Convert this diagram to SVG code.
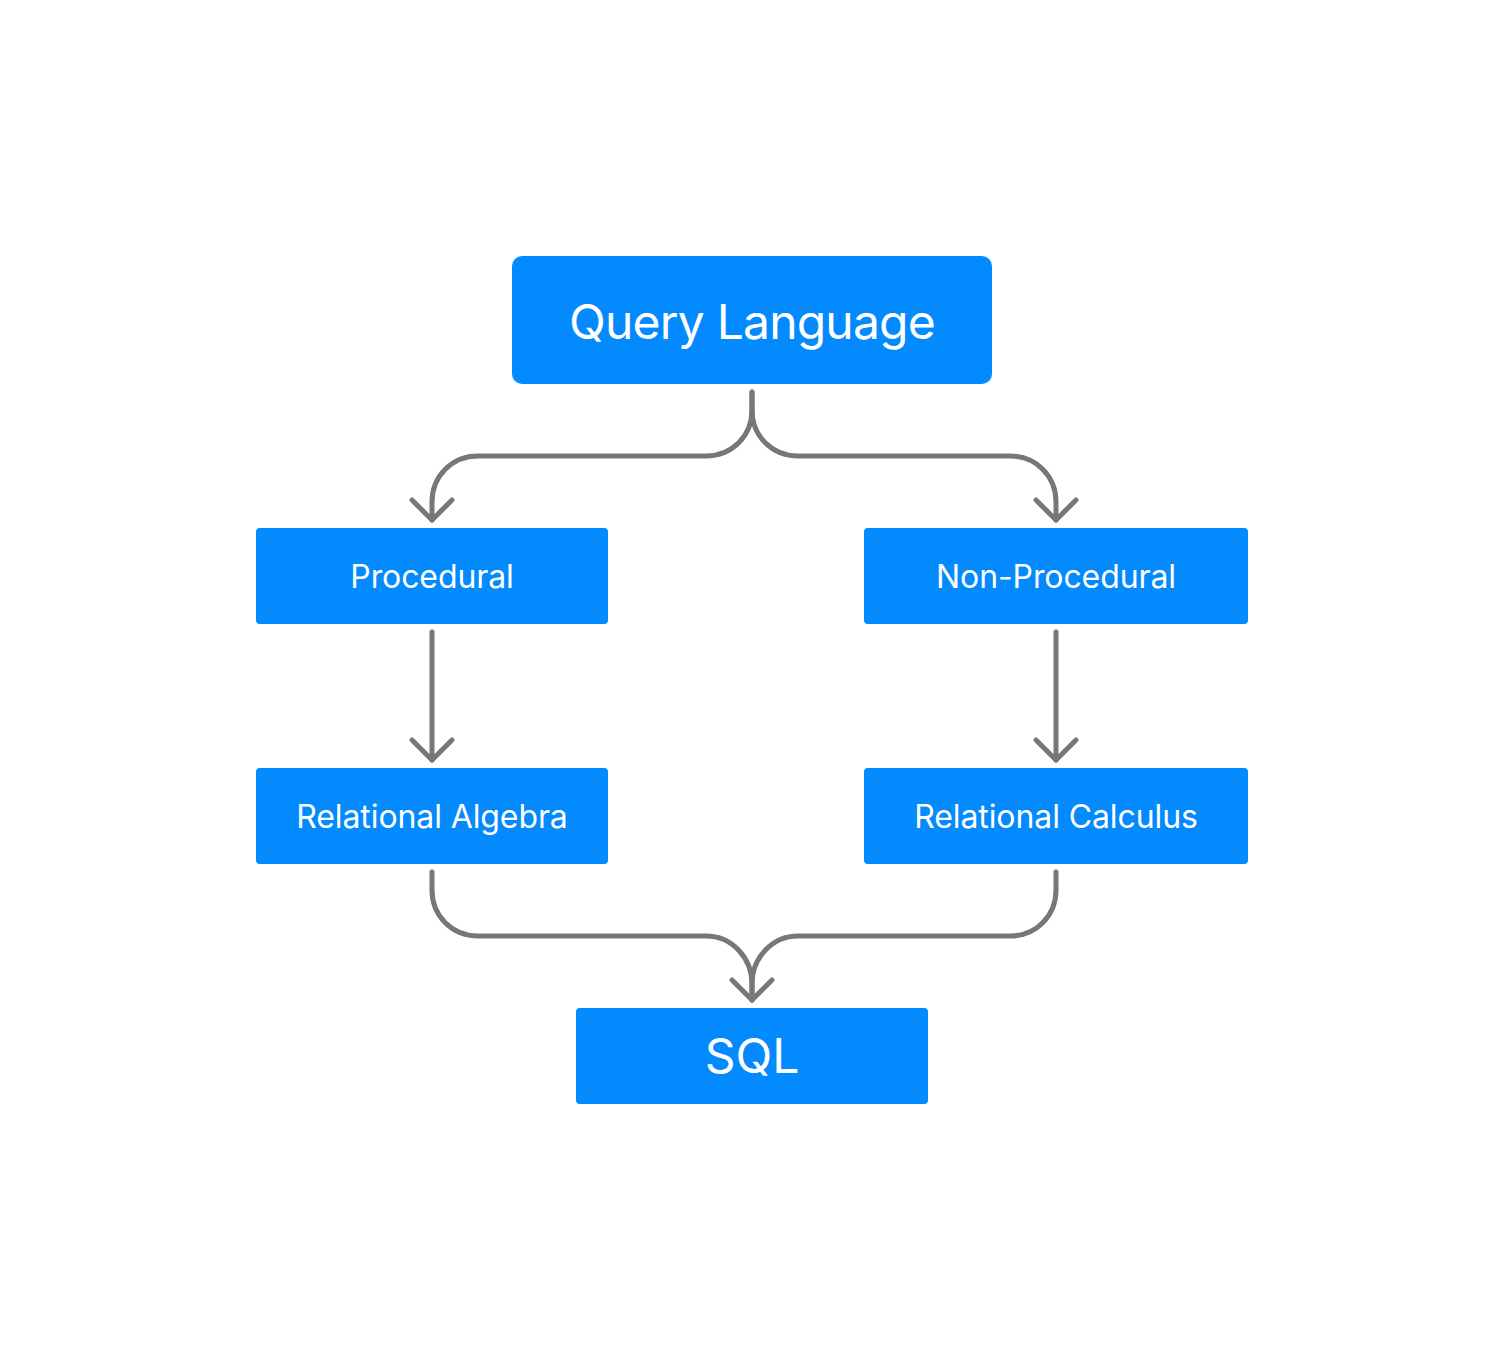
<svg xmlns="http://www.w3.org/2000/svg" width="1504" height="1360" viewBox="0 0 1504 1360">
<style>
.box{fill:#038AFE}
.lbl{font-family:Inter,"Liberation Sans",sans-serif;fill:#FFFFFF;text-anchor:middle}
.big{font-size:48px}
.ql{letter-spacing:-0.8px}
.sm{font-size:32px;letter-spacing:-0.1px}
.con{fill:none;stroke:#777777;stroke-width:5;stroke-linecap:round;stroke-linejoin:round}
</style>
<rect width="1504" height="1360" fill="#FFFFFF"/>
<g id="connectors">
<path class="con" d="M752 392 V410 C752 436 732 456 706 456 H478 C452 456 432 476 432 502 V520"/>
<path class="con" d="M412 500 L432 520 L452 500"/>
<path class="con" d="M752 392 V410 C752 436 772 456 798 456 H1010 C1036 456 1056 476 1056 502 V520"/>
<path class="con" d="M1036 500 L1056 520 L1076 500"/>
<path class="con" d="M432 632 V760"/>
<path class="con" d="M412 740 L432 760 L452 740"/>
<path class="con" d="M1056 632 V760"/>
<path class="con" d="M1036 740 L1056 760 L1076 740"/>
<path class="con" d="M432 872 V890 C432 916 452 936 478 936 H706 C732 936 752 958 752 984 V1000"/>
<path class="con" d="M1056 872 V890 C1056 916 1036 936 1010 936 H798 C772 936 752 958 752 984 V1000"/>
<path class="con" d="M732 980 L752 1000 L772 980"/>
</g>
<g id="query-language">
<rect class="box" x="512" y="256" width="480" height="128" rx="10"/>
<text class="lbl big ql" x="752" y="339">Query Language</text>
</g>
<g id="procedural">
<rect class="box" x="256" y="528" width="352" height="96" rx="4"/>
<text class="lbl sm" x="432" y="588">Procedural</text>
</g>
<g id="non-procedural">
<rect class="box" x="864" y="528" width="384" height="96" rx="4"/>
<text class="lbl sm" x="1056" y="588">Non-Procedural</text>
</g>
<g id="relational-algebra">
<rect class="box" x="256" y="768" width="352" height="96" rx="4"/>
<text class="lbl sm" x="432" y="828">Relational Algebra</text>
</g>
<g id="relational-calculus">
<rect class="box" x="864" y="768" width="384" height="96" rx="4"/>
<text class="lbl sm" x="1056" y="828">Relational Calculus</text>
</g>
<g id="sql">
<rect class="box" x="576" y="1008" width="352" height="96" rx="4"/>
<text class="lbl big" x="752" y="1073">SQL</text>
</g>
</svg>
